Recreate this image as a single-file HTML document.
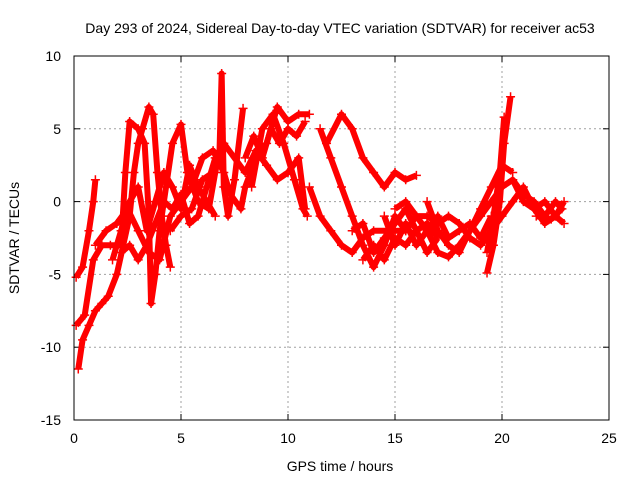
<!DOCTYPE html>
<html><head><meta charset="utf-8"><style>
body{margin:0;background:#fff;}
svg{display:block;font-family:"Liberation Sans",sans-serif;}
</style></head><body>
<svg id="chart" width="640" height="480">
<rect width="640" height="480" fill="#fff"/>
<text x="340" y="33" font-size="14" text-anchor="middle">Day 293 of 2024, Sidereal Day-to-day VTEC variation (SDTVAR) for receiver ac53</text>
<text x="340" y="471" font-size="14" text-anchor="middle">GPS time / hours</text>
<text transform="translate(19,238) rotate(-90)" font-size="14" text-anchor="middle">SDTVAR / TECUs</text>
<g id="grid"></g>
<g id="ticks"></g>
<g id="marks"></g>
<rect x="74" y="56" width="535" height="364" fill="none" stroke="#000"/>
</svg>
<script>
const xTicks=[0,5,10,15,20,25];
const yTicks=[-15,-10,-5,0,5,10];
const trackA=[[0.2,-11.5],[0.4,-9.5],[0.7,-8.5],[1.0,-7.5],[1.3,-7],[1.6,-6.5],[2.0,-5],[2.3,-3],[2.6,-1],[2.8,2],[3.0,4],[3.2,5],[3.5,6.5],[3.7,6],[3.9,2],[4.1,-1],[4.3,-3],[4.5,-4.5]];
const trackB=[[0.1,-5.2],[0.4,-4.5],[0.7,-2],[0.9,0],[1.0,1.5]];
const trackC=[[0.1,-8.5],[0.5,-7.8],[0.9,-4],[1.3,-3],[1.7,-3],[2.2,-3],[2.4,2],[2.6,5.5],[3.0,5],[3.3,4],[3.5,-1],[3.6,-7],[3.8,-5],[4.0,-2],[4.3,1],[4.6,4],[5.0,5.3],[5.3,2],[5.8,0],[6.3,-0.5],[6.6,2],[6.8,3.5],[6.9,8.8],[7.0,1],[7.2,-1],[7.5,1.5],[7.9,6.4]];
const trackD=[[1.0,-3],[1.5,-2],[2.0,-1.5],[2.5,-0.5],[3.0,-2],[3.5,-3.5],[4.0,-4],[4.5,-1],[5.0,0],[5.5,1],[6.0,3],[6.5,3.5],[7.0,2],[7.3,0.5],[7.8,-0.5],[8.0,1],[8.5,3],[9.0,4],[9.5,6.5],[10.0,5.5],[10.5,6],[11.0,6]];
const trackE=[[4.5,-2],[5.0,-1],[5.5,-0.5],[6.0,1.5],[6.5,2],[7.0,4],[8.0,2],[8.5,3.5],[9.0,2.5],[9.5,1.5],[10.0,2],[10.5,3],[10.8,-0.5]];
const trackF=[[8.3,1],[8.8,5],[9.3,6],[9.8,4],[10.3,1.5],[10.7,-0.5],[10.9,-1]];
const trackG=[[11.5,5],[12.0,3],[12.5,1],[13.0,-1],[13.5,-3],[14.0,-4.5],[14.5,-3],[15.0,-1],[15.5,-2]];
const trackH=[[11.8,4],[12.5,6],[13.0,5],[13.5,3],[14.0,2],[14.5,1],[15.0,2],[15.5,1.5],[16.0,1.8]];
const trackI=[[11.0,1],[11.5,-1],[12.0,-2],[12.5,-3],[13.0,-3.5],[13.5,-2.5],[14.0,-2],[15.0,-2],[15.5,-2],[16.0,-1],[16.5,-2],[17.0,-3.5],[17.5,-3.8],[18.0,-3],[18.5,-2],[19.0,-1],[19.5,0],[20.0,1],[20.5,1.5],[21.0,0],[21.5,-0.5],[22.0,0],[22.5,-1],[22.9,-1.5]];
const trackJ=[[15.0,-0.5],[15.5,0],[16.0,-1],[16.5,-1],[17.0,-1.5],[17.5,-1],[18.0,-1.5],[18.5,-2.5],[19.0,-3],[19.5,-2],[20.0,-1],[20.5,0],[21.0,1],[21.5,-0.5],[22.0,-1.5],[22.5,-1],[22.9,0]];
const trackK=[[19.3,-4.9],[19.6,-3],[19.9,0],[20.1,4],[20.4,7.2]];
const trackL=[[16.5,0],[17.0,-2],[17.5,-3],[18.0,-3.5],[18.5,-2],[19.0,-0.5],[19.5,1],[20.0,2.5],[20.5,2]];
const trackM=[[1.8,-4],[2.2,-2],[2.6,0],[3.0,1],[3.4,-2],[3.8,0],[4.2,2],[4.6,1],[5.0,-0.5],[5.4,2.5],[5.8,1],[6.2,0],[6.6,-1]];
const trackN=[[2.2,-3.5],[2.6,-3],[3.0,-4],[3.4,-3],[3.8,-1.5],[4.2,0],[4.6,-0.5],[5.0,0.5],[5.4,-1.5],[5.8,-1],[6.2,1],[6.6,3]];
const trackO=[[8.0,3],[8.4,4.5],[8.8,3],[9.2,5],[9.6,4],[10.0,5],[10.4,4.5],[10.8,5.5]];
const trackP=[[13.0,-2],[13.5,-1.5],[14.0,-3.5],[14.5,-2.5],[15.0,-1.5],[15.5,-0.5],[16.0,-2],[16.5,-1.5],[17.0,-2.5]];
const trackQ=[[14.5,-1],[15.0,-3],[15.5,-1.5],[16.0,-3],[16.5,-2],[17.0,-1],[17.5,-2.5],[18.0,-2],[18.5,-1.5],[19.0,-2.5],[19.5,-1]];
const trackR=[[13.5,-4],[14.0,-3],[14.5,-4],[15.0,-2.5],[15.5,-3],[16.0,-2],[16.5,-3.5],[17.0,-2.5]];
const trackS=[[20.5,1.5],[21.0,0.5],[21.5,0],[22.0,-1],[22.5,0],[22.8,-0.5],[22.3,-1.2],[21.6,-1]];
const trackT=[[19.3,-3.5],[19.6,-1],[19.9,2],[20.1,5.8]];
const tracks=[trackA,trackB,trackC,trackD,trackE,trackF,trackG,trackH,trackI,trackJ,trackK,trackL,trackM,trackN,trackO,trackP,trackQ,trackR,trackS,trackT];
const X0=74,X1=609,Y0=420,Y1=56;
const xs=v=>X0+(v-0)/25*(X1-X0);
const ys=v=>Y0-(v+15)/25*(Y0-Y1);
const NS="http://www.w3.org/2000/svg";
const grid=document.getElementById('grid'),ticks=document.getElementById('ticks'),marks=document.getElementById('marks');
function mk(t,a,p){const e=document.createElementNS(NS,t);for(const k in a)e.setAttribute(k,a[k]);p.appendChild(e);return e;}
xTicks.forEach(v=>{
 const x=xs(v);
 if(v>0&&v<25){const g=mk('line',{x1:x,x2:x,y1:Y1,y2:Y0,stroke:'#a0a0a0','stroke-dasharray':'2,3'},grid);
 
 }
 mk('line',{x1:x,x2:x,y1:Y0,y2:Y0-6,stroke:'#000'},ticks);
 mk('line',{x1:x,x2:x,y1:Y1,y2:Y1+6,stroke:'#000'},ticks);
 const t=mk('text',{x:x,y:443,'font-size':14,'text-anchor':'middle'},ticks);t.textContent=v;
 
 
});
yTicks.forEach(v=>{
 const y=ys(v);
 if(v>-15&&v<10){const g=mk('line',{x1:X0,x2:X1,y1:y,y2:y,stroke:'#a0a0a0','stroke-dasharray':'2,3'},grid);
 
 }
 mk('line',{x1:X0,x2:X0+6,y1:y,y2:y,stroke:'#000'},ticks);
 mk('line',{x1:X1,x2:X1-6,y1:y,y2:y,stroke:'#000'},ticks);
 const t=mk('text',{x:61,y:y+5,'font-size':14,'text-anchor':'end'},ticks);t.textContent=v;
 
 
});
tracks.forEach((tr,i)=>{
 const pl=mk('polyline',{points:tr.map(p=>xs(p[0])+','+ys(p[1])).join(' '),fill:'none',stroke:'#ff0000','stroke-width':6,'stroke-linejoin':'round'},marks);
 
 
 tr.forEach(p=>{
  const x=xs(p[0]),y=ys(p[1]);
  const m=mk('path',{d:`M${x-4.5},${y}h9M${x},${y-4.5}v9`,stroke:'#ff0000','stroke-width':1.5},marks);
  
  
 });
});
</script>
</body></html>
